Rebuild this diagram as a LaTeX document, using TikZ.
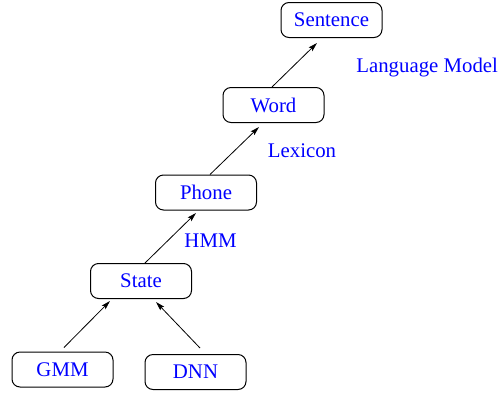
\documentclass[tikz,border=0pt]{standalone}
\usepackage{fontspec}
\setmainfont{Liberation Serif}
\usetikzlibrary{arrows.meta}
\definecolor{labelblue}{RGB}{0,0,255}
\tikzset{
  level/.style={draw, line width=0.5pt, rounded corners=4pt,
    minimum width=50.5pt, minimum height=17.5pt, inner sep=0pt,
    text=labelblue, font=\fontsize{10.4}{12}\selectfont},
  tag/.style={text=labelblue, inner sep=0pt, font=\fontsize{10.4}{12}\selectfont},
  arr/.style={line width=0.4pt, -{Stealth[length=4.5pt,width=2.6pt,inset=0.8pt]}}
}
\begin{document}
\begin{tikzpicture}[x=0.5pt, y=-0.5pt]
  \useasboundingbox (0,0) rectangle (498,392);
  % recognition hierarchy, bottom to top
  \node[level] (gmm)      at (62.5,369.5) {GMM};
  \node[level] (dnn)      at (195.5,372)  {DNN};
  \node[level] (state)    at (141,281)    {State};
  \node[level] (phone)    at (206,192.5)  {Phone};
  \node[level] (word)     at (273.5,105)  {Word};
  \node[level] (sentence) at (331.5,20)   {Sentence};
  % model names between the levels
  \node[tag] (hmm)  at (210.5,241) {HMM};
  \node[tag] (lex)  at (302,151)   {Lexicon};
  \node[tag, anchor=west] (lm) at (356,68) {Language Model};
  % links
  \draw[arr] ([shift={(1.5,-4)}]gmm.north)   -- ([shift={(-31,2)}]state.south);
  \draw[arr] ([shift={(4.5,-6)}]dnn.north)   -- ([shift={(15,3)}]state.south);
  \draw[arr] ([shift={(4,0)}]state.north)    -- ([shift={(-10,2.5)}]phone.south);
  \draw[arr] ([shift={(4,0)}]phone.north)    -- ([shift={(-14.5,4)}]word.south);
  \draw[arr] ([shift={(-1.5,0)}]word.north)  -- ([shift={(-14.5,5)}]sentence.south);
\end{tikzpicture}
\end{document}
